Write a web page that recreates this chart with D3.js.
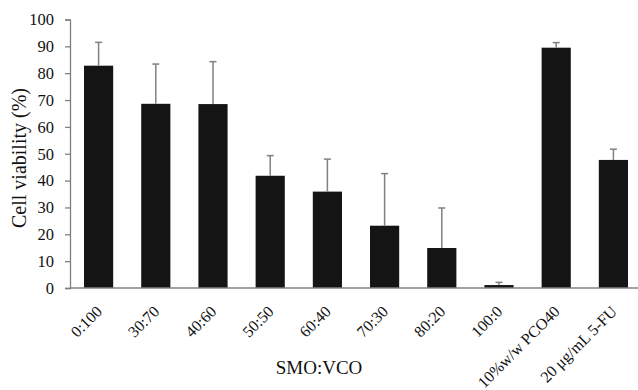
<!DOCTYPE html>
<html>
<head>
<meta charset="utf-8">
<script src="https://cdn.jsdelivr.net/npm/d3@7"></script>
<style>
  html, body { margin: 0; padding: 0; background: #fff; }
  svg { display: block; font-family: "Liberation Serif", "Times New Roman", serif; }
</style>
</head>
<body>
<div id="chart"></div>
<script>
// data
const categories = ["0:100", "30:70", "40:60", "50:50", "60:40", "70:30", "80:20", "100:0", "10%w/w PCO40", "20 \u03bcg/mL 5-FU"];
const viability  = [82.8, 68.6, 68.5, 41.8, 35.9, 23.2, 14.9, 1.1, 89.5, 47.7];
const errUpper   = [91.5, 83.4, 84.3, 49.3, 48.0, 42.6, 29.8, 2.1, 91.4, 51.7];
const yTicks     = [0, 10, 20, 30, 40, 50, 60, 70, 80, 90, 100];

const W = 638, H = 390;
const m = { left: 70, right: -4, top: 19.5, bottom: 102 };

const svg = d3.select("#chart").append("svg")
  .attr("width", W).attr("height", H);

const x = d3.scaleBand()
  .domain(categories)
  .range([m.left, W - m.right])
  .paddingInner(0.49)
  .paddingOuter(0.245);

const y = d3.scaleLinear()
  .domain([0, 100])
  .range([H - m.bottom, m.top]);

// y axis
const yAxis = svg.append("g")
  .attr("transform", `translate(${m.left},0)`)
  .call(d3.axisLeft(y).tickValues(yTicks).tickSize(5).tickPadding(11));
yAxis.select(".domain").attr("stroke", "#808080").attr("stroke-width", 1.3);
yAxis.selectAll(".tick line").attr("stroke", "#808080").attr("stroke-width", 1.3);
yAxis.selectAll(".tick text")
  .attr("font-size", 16.5).attr("fill", "#111")
  .attr("font-family", "Liberation Serif, serif");

// bars
svg.append("g").selectAll("rect")
  .data(categories)
  .join("rect")
  .attr("x", d => x(d))
  .attr("width", x.bandwidth())
  .attr("y", (d, i) => y(viability[i]))
  .attr("height", (d, i) => y(0) - y(viability[i]))
  .attr("fill", "#141414");

// error bars (upper only)
const eb = svg.append("g").attr("stroke", "#808080").attr("stroke-width", 1.5);
categories.forEach((c, i) => {
  const cx = x(c) + x.bandwidth() / 2;
  eb.append("line")
    .attr("x1", cx).attr("x2", cx)
    .attr("y1", y(viability[i])).attr("y2", y(errUpper[i]));
  eb.append("line")
    .attr("x1", cx - 3.5).attr("x2", cx + 3.5)
    .attr("y1", y(errUpper[i])).attr("y2", y(errUpper[i]));
});

// x axis baseline
svg.append("line")
  .attr("x1", m.left).attr("x2", W)
  .attr("y1", y(0)).attr("y2", y(0))
  .attr("stroke", "#808080").attr("stroke-width", 1.5);

// rotated category labels
svg.append("g").selectAll("text")
  .data(categories)
  .join("text")
  .attr("transform", d => `translate(${x(d) + x.bandwidth() / 2 + 4.5},${y(0) + 24.5}) rotate(-45)`)
  .attr("text-anchor", "end")
  .attr("font-size", 16)
  .attr("fill", "#111")
  .text(d => d);

// axis titles
svg.append("text")
  .attr("transform", `translate(26,158) rotate(-90)`)
  .attr("text-anchor", "middle")
  .attr("font-size", 20)
  .attr("fill", "#111")
  .text("Cell viability (%)");

svg.append("text")
  .attr("x", 319).attr("y", 374)
  .attr("text-anchor", "middle")
  .attr("font-size", 19)
  .attr("fill", "#111")
  .text("SMO:VCO");
</script>
</body>
</html>
